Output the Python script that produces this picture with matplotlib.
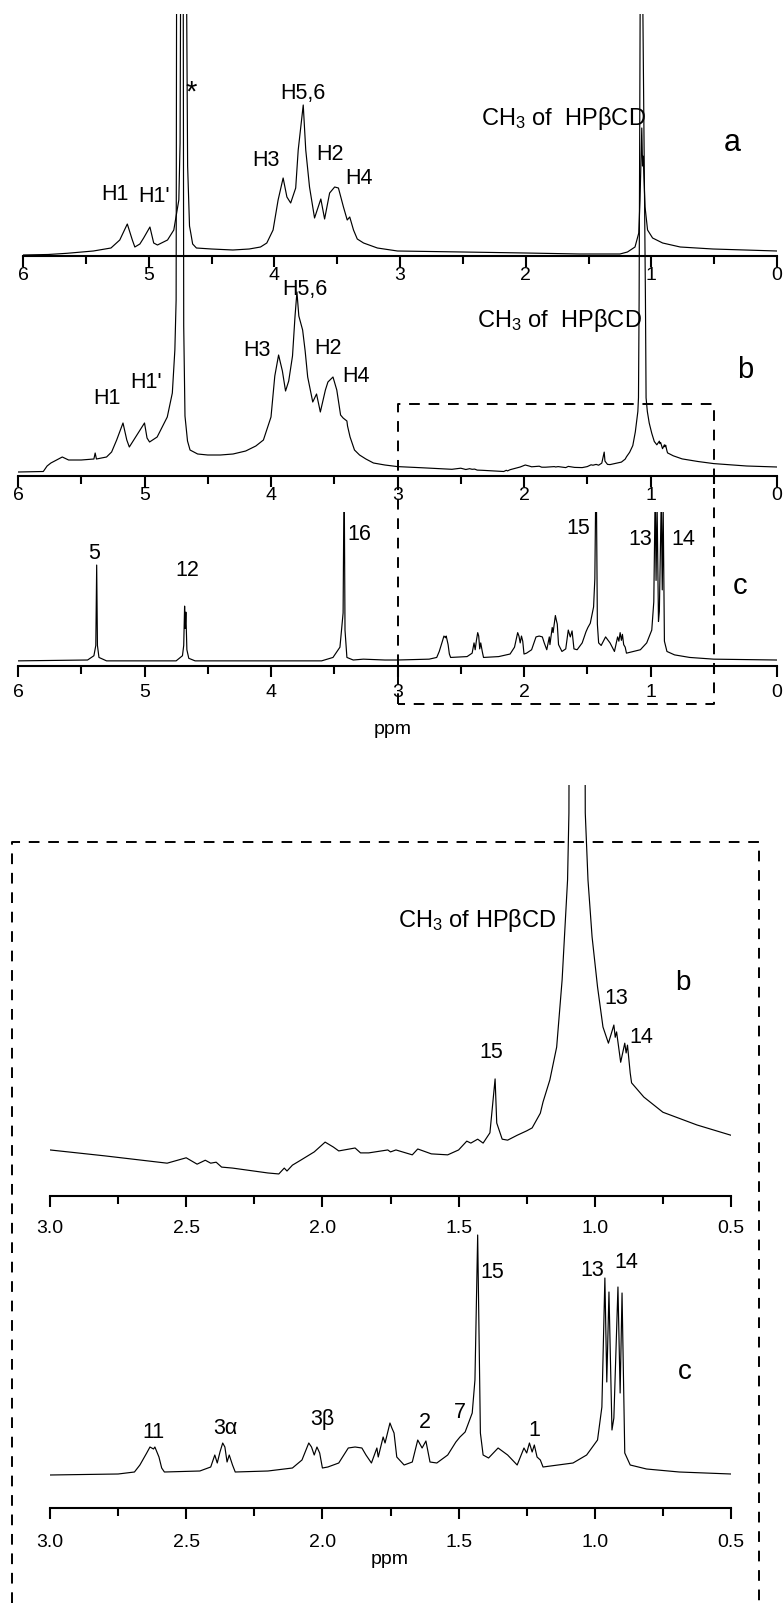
import matplotlib
matplotlib.use('Agg')
import matplotlib.pyplot as plt
import matplotlib.transforms as mtransforms
from matplotlib.lines import Line2D
from matplotlib.ticker import MultipleLocator, FormatStrFormatter

plt.rcParams['font.family'] = ['Liberation Sans', 'DejaVu Sans']
plt.rcParams['mathtext.default'] = 'regular'

W, H = 783, 1603  # figure size in pixels at dpi 100

# spectrum a (HPbCD alone), intensity in arbitrary units
a_ppm = [6.00, 5.80, 5.65, 5.44, 5.30, 5.23, 5.17, 5.13, 5.11, 5.07, 5.04, 4.99, 4.96, 4.93,
         4.85, 4.80, 4.76, 4.75, 4.745, 4.70, 4.69, 4.675, 4.665, 4.65, 4.62, 4.50, 4.33, 4.20,
         4.11, 4.06, 4.01, 3.97, 3.93, 3.90, 3.87, 3.83, 3.81, 3.77, 3.75, 3.72, 3.68, 3.63,
         3.60, 3.56, 3.52, 3.49, 3.45, 3.42, 3.40, 3.37, 3.34, 3.29, 3.18, 3.02, 2.50, 2.00,
         1.57, 1.25, 1.19, 1.13, 1.10, 1.09, 1.076, 1.07, 1.065, 1.05, 1.03, 0.99, 0.91, 0.77,
         0.51, 0.00]
a_int = [1, 1.5, 2.7, 5, 8, 16, 32, 16, 9, 12, 18, 29, 13, 11,
         16, 26, 56, 113, 300, 300, 90, 30, 23, 12, 8, 7, 6, 7,
         9, 13, 26, 56, 78, 59, 53, 68, 106, 151, 106, 69, 38, 57,
         37, 63, 69, 68, 49, 36, 39, 26, 17, 13, 8, 5, 4, 3,
         2, 2, 4, 9, 23, 56, 128, 90, 100, 49, 26, 18, 13, 9,
         7, 5]

# spectrum b (complex), same arbitrary units as panel b
b_ppm = [6.00, 5.80, 5.77, 5.74, 5.68, 5.65, 5.60, 5.50, 5.40, 5.39, 5.38, 5.30, 5.26, 5.22,
         5.17, 5.14, 5.12, 5.05, 5.00, 4.98, 4.96, 4.90, 4.82, 4.78, 4.76, 4.75, 4.745, 4.695,
         4.69, 4.68, 4.66, 4.64, 4.58, 4.50, 4.40, 4.30, 4.20, 4.12, 4.06, 4.00, 3.97, 3.94,
         3.91, 3.885, 3.86, 3.83, 3.81, 3.795, 3.78, 3.75, 3.73, 3.71, 3.67, 3.64, 3.61, 3.57,
         3.55, 3.51, 3.48, 3.45, 3.43, 3.40, 3.395, 3.375, 3.34, 3.30, 3.25, 3.19, 3.10,
         3.00, 2.80, 2.57, 2.50, 2.46, 2.43, 2.41, 2.39, 2.37, 2.33, 2.20, 2.16, 2.14, 2.13,
         2.11, 2.08, 2.03, 1.99, 1.96, 1.94, 1.90, 1.88, 1.86, 1.83, 1.76, 1.75, 1.73, 1.67,
         1.65, 1.60, 1.54, 1.50, 1.47, 1.455, 1.43, 1.41, 1.385, 1.366, 1.36, 1.34, 1.32,
         1.285, 1.25, 1.23, 1.20, 1.19, 1.165, 1.14, 1.12, 1.10, 1.095, 1.09, 1.082, 1.07,
         1.06, 1.04, 1.035, 1.025, 1.01, 0.99, 0.97, 0.95, 0.93, 0.925, 0.92, 0.905, 0.89,
         0.885, 0.88, 0.87, 0.865, 0.82, 0.75, 0.625, 0.50, 0.24, 0.00]
b_int = [4, 4.5, 10, 13, 17, 19, 16, 16, 17, 23, 17, 19, 24, 36,
         53, 36, 29, 43, 53, 38, 34, 39, 59, 83, 126, 176, 600, 600,
         150, 60, 35, 26, 22, 21, 21, 22, 25, 30, 36, 59, 100, 121,
         105, 85, 95, 120, 160, 184, 160, 146, 125, 99, 74, 82, 64, 86,
         94, 99, 86, 61, 58, 55, 50, 39, 26, 21, 17, 13, 11,
         9.4, 8.2, 6.7, 7.8, 6.5, 7.3, 6.7, 6.9, 5.9, 5.7, 4.7, 4.5, 5.7, 5.1,
         6.3, 7.3, 9.0, 11.0, 10.0, 9.2, 9.6, 9.8, 8.8, 8.8, 9.4, 9.0, 9.4, 8.4,
         9.6, 8.6, 8.4, 9.4, 11.2, 10.8, 11.6, 10.8, 12.9, 23.9, 14.9, 11.6, 11.4,
         12.4, 13.3, 13.9, 16.9, 19.2, 23.7, 30.4, 44.1, 64.5, 78.2, 176, 462, 600,
         462, 176, 78.2, 64.5, 52.9, 42.7, 34.5, 31.2, 34.9, 32.4, 33.5, 27.3, 31.2,
         29.2, 30.8, 25.1, 23.1, 20.2, 17.1, 14.5, 12.4, 10, 9]

# spectrum c (guest alone)
c_ppm = [6.00, 5.45, 5.40, 5.385, 5.378, 5.372, 5.36, 5.30, 4.75, 4.70, 4.69, 4.683, 4.678,
         4.673, 4.665, 4.65, 4.60, 3.60, 3.51, 3.455, 3.43, 3.422, 3.415, 3.40, 3.35, 3.27,
         3.10, 3.00, 2.75, 2.69, 2.67, 2.645, 2.633, 2.62, 2.615, 2.60, 2.59, 2.58, 2.45,
         2.41, 2.395, 2.386, 2.376, 2.366, 2.358, 2.35, 2.342, 2.33, 2.32, 2.20, 2.11, 2.075,
         2.05, 2.04, 2.03, 2.02, 2.01, 2.00, 1.98, 1.94, 1.905, 1.88, 1.855, 1.84, 1.82,
         1.80, 1.795, 1.777, 1.77, 1.752, 1.745, 1.737, 1.727, 1.70, 1.67, 1.65, 1.634,
         1.62, 1.605, 1.58, 1.54, 1.51, 1.495, 1.476, 1.465, 1.45, 1.44, 1.43, 1.42, 1.41,
         1.39, 1.355, 1.32, 1.285, 1.26, 1.25, 1.24, 1.23, 1.222, 1.212, 1.20, 1.19, 1.08,
         1.03, 0.99, 0.974, 0.963, 0.956, 0.948, 0.937, 0.93, 0.915, 0.907, 0.90, 0.89,
         0.87, 0.81, 0.69, 0.50, 0.00]
c_int = [32, 33, 38, 50, 144, 50, 36, 32, 32, 38, 50, 96, 70,
         89, 45, 35, 32, 32, 36, 48, 88, 260, 68, 36, 33, 34,
         33, 33, 34, 36, 43, 55, 61, 59, 61, 51, 40, 36, 37,
         41, 53, 45, 56, 65, 61, 46, 53, 43, 36, 37, 40, 48,
         65, 61, 53, 61, 55, 40, 41, 45, 60, 61, 60, 53, 45,
         60, 51, 71, 65, 85, 80, 75, 51, 43, 46, 68, 60,
         67, 46, 45, 53, 66, 71, 76, 84, 95, 128, 273, 75, 53,
         50, 60, 53, 43, 60, 55, 65, 56, 63, 51, 48, 41, 45,
         53, 68, 101, 230, 126, 216, 78, 90, 221, 115, 215, 55,
         43, 39, 36, 34, 33]

CH3 = 'CH$_3$ of  HP\u03b2CD'
LABEL_SIZE = 15.5
TICK_SIZE = 14

fig = plt.figure(figsize=(W / 100, H / 100), dpi=100)


def panel(rect, xlim, ylim, major, minor, fmt, pad):
    left, top, right, bottom = rect
    ax = fig.add_axes([left / W, 1 - bottom / H, (right - left) / W, (bottom - top) / H])
    ax.set_xlim(xlim)
    ax.set_ylim(ylim)
    ax.patch.set_alpha(0)
    for side in ('top', 'left', 'right'):
        ax.spines[side].set_visible(False)
    ax.spines['bottom'].set_linewidth(1.5)
    ax.set_yticks([])
    ax.xaxis.set_major_locator(MultipleLocator(major))
    ax.xaxis.set_minor_locator(MultipleLocator(minor))
    ax.xaxis.set_major_formatter(FormatStrFormatter(fmt))
    ax.tick_params(axis='x', which='major', direction='out', length=8, width=1.5,
                   pad=pad, labelsize=TICK_SIZE)
    ax.tick_params(axis='x', which='minor', direction='out', length=5.5, width=1.5)
    return ax


def labels(ax, items, size=LABEL_SIZE):
    for txt, x, y in items:
        ax.text(x, y, txt, ha='center', va='center', fontsize=size)


# ---- top block: full range
ax_a = panel((23, 14, 777, 256), (6, 0), (0, 242), 1, 0.5, '%d', 0)
ax_a.plot(a_ppm, a_int, color='black', lw=0.85)
labels(ax_a, [('H1', 5.27, 61), ("H1'", 4.96, 59), ('H3', 4.07, 96), ('H5,6', 3.77, 163),
              ('H2', 3.56, 102), ('H4', 3.33, 78)])
ax_a.text(1.70, 138, CH3, ha='center', va='center', fontsize=17)
ax_a.text(4.66, 163, '*', ha='center', va='center', fontsize=21)
ax_a.text(0.36, 113, 'a', ha='center', va='center', fontsize=22)

ax_b = panel((18, 14, 777, 476), (6, 0), (0, 462), 1, 0.5, '%d', 0)
ax_b.plot(b_ppm, b_int, color='black', lw=0.85)
labels(ax_b, [('H1', 5.30, 78), ("H1'", 4.99, 93), ('H3', 4.11, 126), ('H5,6', 3.73, 186),
              ('H2', 3.55, 128), ('H4', 3.33, 100)])
ax_b.text(1.72, 156, CH3, ha='center', va='center', fontsize=17)
ax_b.text(0.25, 106, 'b', ha='center', va='center', fontsize=21)

ax_c = panel((18, 512, 777, 666), (6, 0), (26, 206), 1, 0.5, '%d', 5)
ax_c.plot(c_ppm, c_int, color='black', lw=0.85)
labels(ax_c, [('5', 5.40, 158), ('12', 4.66, 138), ('16', 3.30, 180), ('15', 1.57, 187),
              ('13', 1.08, 174), ('14', 0.74, 174)])
ax_c.text(0.29, 120, 'c', ha='center', va='center', fontsize=21)
ax_c.set_xlabel('ppm', fontsize=TICK_SIZE)
ax_c.xaxis.set_label_coords(0.494, -0.36)

# dashed box marking the expanded region
zoom = (3.0, 0.5)
tr = mtransforms.blended_transform_factory(ax_b.transData, fig.transFigure)
box_top, box_bot = 1 - 404 / H, 1 - 704 / H
fig.add_artist(Line2D([zoom[0], zoom[0], zoom[1], zoom[1], zoom[0]],
                      [box_bot, box_top, box_top, box_bot, box_bot], transform=tr,
                      color='black', lw=1.4, linestyle=(0, (5.5, 4.5))))

# ---- bottom block: expansion 3.0 - 0.5 ppm
ax_b2 = panel((50, 785, 731, 1196), zoom, (0, 83.9), 0.5, 0.25, '%.1f', 9)
ax_b2.plot(b_ppm, b_int, color='black', lw=0.85)
labels(ax_b2, [('15', 1.381, 29.2), ('13', 0.922, 40.4), ('14', 0.830, 32.4)])
ax_b2.text(1.43, 56.3, 'CH$_3$ of HP\u03b2CD', ha='center', va='center', fontsize=17)
ax_b2.text(0.676, 43.5, 'b', ha='center', va='center', fontsize=20)

ax_c2 = panel((50, 1230, 731, 1508), zoom, (0, 278), 0.5, 0.25, '%.1f', 10.5)
ax_c2.plot(c_ppm, c_int, color='black', lw=0.85)
labels(ax_c2, [('11', 2.622, 76), ('3\u03b1', 2.358, 80), ('3\u03b2', 2.0, 88), ('2', 1.623, 86),
               ('7', 1.495, 96), ('1', 1.223, 78), ('15', 1.377, 235), ('13', 1.01, 238),
               ('14', 0.885, 246)])
ax_c2.text(0.669, 136, 'c', ha='center', va='center', fontsize=20)
ax_c2.set_xlabel('ppm', fontsize=TICK_SIZE)
ax_c2.xaxis.set_label_coords(0.499, -0.155)

# large dashed frame around the expansion
bx0, bx1, by = 12 / W, 759 / W, 1 - 842 / H
fig.add_artist(Line2D([bx0, bx0, bx1, bx1], [0, by, by, 0], transform=fig.transFigure,
                      color='black', lw=1.4, linestyle=(0, (5.5, 4.5))))

fig.savefig('out.png', dpi=100)
